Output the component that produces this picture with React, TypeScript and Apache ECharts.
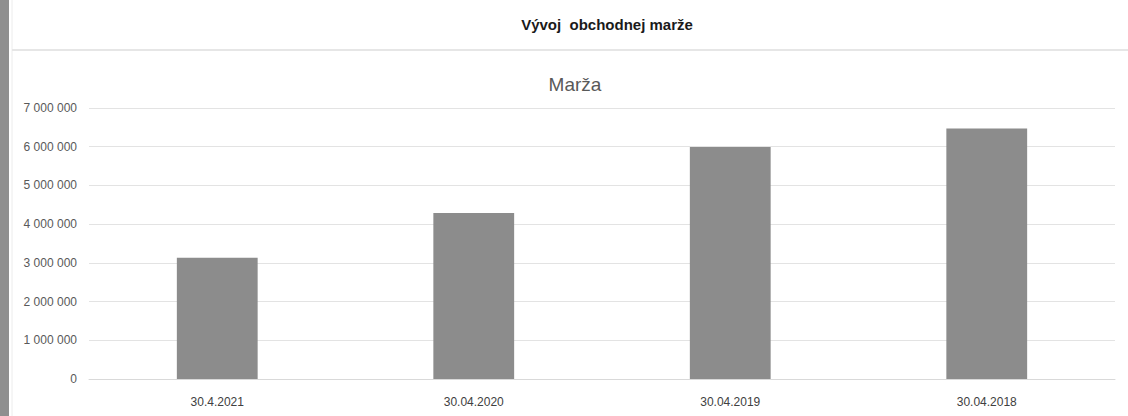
import React, { useEffect, useRef } from "react";
import * as echarts from "echarts";

const categories = ["30.4.2021", "30.04.2020", "30.04.2019", "30.04.2018"];
const margin = [3130000, 4290000, 5990000, 6470000];
const pageTitle = "Vývoj  obchodnej marže";
const chartTitle = "Marža";

const fmt = (v: number) => String(Math.round(v)).replace(/\B(?=(\d{3})+(?!\d))/g, " ");

export default function App() {
  const ref = useRef<HTMLDivElement>(null);
  useEffect(() => {
    if (!ref.current) return;
    const chart = echarts.init(ref.current, null, { renderer: "svg" });
    chart.setOption({
      animation: false,
      backgroundColor: "#ffffff",
      title: [
        {
          text: pageTitle,
          left: 602,
          top: 12,
          textAlign: "center",
          textStyle: { fontFamily: "Liberation Sans", fontSize: 15, fontWeight: "bold", color: "#1a1a1a" },
        },
        {
          text: chartTitle,
          left: 570,
          top: 70,
          textAlign: "center",
          textStyle: { fontFamily: "Liberation Sans", fontSize: 19, fontWeight: "normal", color: "#595959" },
        },
      ],
      graphic: [
        { type: "rect", shape: { x: 0, y: 0, width: 9, height: 416 }, style: { fill: "#8f8f8f" } },
        { type: "line", shape: { x1: 12, y1: 0, x2: 12, y2: 416 }, style: { stroke: "#ececec", lineWidth: 1 } },
        { type: "line", shape: { x1: 12, y1: 50, x2: 1128, y2: 50 }, style: { stroke: "#e6e6e6", lineWidth: 2 } },
      ],
      grid: { left: 89, right: 13, top: 108, bottom: 37 },
      xAxis: {
        type: "category",
        data: categories,
        axisLine: { lineStyle: { color: "#d9d9d9" } },
        axisTick: { show: false },
        axisLabel: { margin: 17, fontFamily: "Liberation Sans", fontSize: 12, color: "#404040" },
      },
      yAxis: {
        type: "value",
        min: 0,
        max: 7000000,
        interval: 1000000,
        axisLine: { show: false },
        axisTick: { show: false },
        splitLine: { lineStyle: { color: "#e3e3e3" } },
        axisLabel: { margin: 12, fontFamily: "Liberation Sans", fontSize: 12, color: "#595959", formatter: fmt },
      },
      series: [
        {
          type: "bar",
          data: margin,
          barWidth: "31.5%",
          itemStyle: { color: "#8c8c8c" },
        },
      ],
    });
    return () => chart.dispose();
  }, []);
  return <div ref={ref} style={{ position: "fixed", left: 0, top: 0, width: 1128, height: 416 }} />;
}
